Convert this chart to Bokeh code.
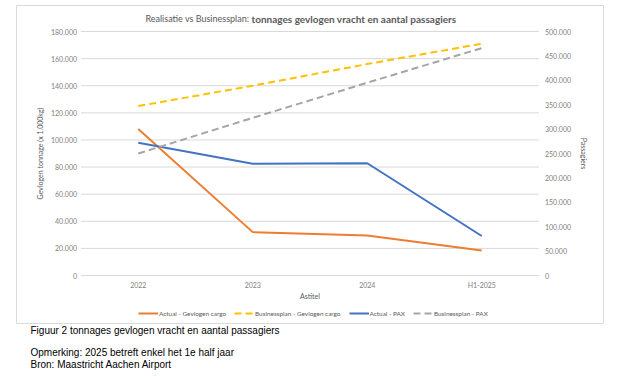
from bokeh.plotting import figure
from bokeh.layouts import column
from bokeh.models import (Range1d, LinearAxis, FactorRange, Legend, LegendItem,
                          Label, FixedTicker)
from bokeh.embed import file_html
from bokeh.resources import INLINE

categories = ["2022", "2023", "2024", "H1-2025"]
actual_cargo = [108000, 32000, 29500, 18500]
plan_cargo = [125000, 140000, 156000, 171000]
actual_pax = [272000, 229000, 230000, 81000]
plan_pax = [250000, 323000, 395000, 466000]

left_ticks = [0, 20000, 40000, 60000, 80000, 100000, 120000, 140000, 160000, 180000]
right_ticks = [0, 50000, 100000, 150000, 200000, 250000, 300000, 350000, 400000, 450000, 500000]
LEFT_MAX, RIGHT_MAX = 180000, 500000

FONT = "Lato"
TXT = "#595959"
GRID = "#d9d9d9"

# layout (pixels on the page)
W = 623
CH = 324                      # chart figure height
BOX_L, BOX_R, BOX_T, BOX_B = 16, 603, 5, 323   # chart box (frame)
PA_L, PA_R, PA_T, PA_B = 81, 539, 31, 275      # plot area inside the box

frame_w = BOX_R - BOX_L
plot_w = PA_R - PA_L
px_per_cat = plot_w / len(categories)
pad = (frame_w - plot_w) / 2 / px_per_cat

plot_h = PA_B - PA_T
lo_px, hi_px = BOX_B - PA_B, PA_T - BOX_T


def ext_range(vmax):
    per = vmax / plot_h
    return Range1d(-lo_px * per, vmax + hi_px * per)


def fmt(v):
    return f"{v:,}".replace(",", ".")


p = figure(width=W, height=CH, output_backend="svg", toolbar_location=None,
           x_range=FactorRange(*categories, range_padding=pad, range_padding_units="absolute"),
           y_range=ext_range(LEFT_MAX),
           min_border_left=BOX_L, min_border_right=W - BOX_R,
           min_border_top=BOX_T, min_border_bottom=CH - BOX_B)
p.extra_y_ranges = {"pax": ext_range(RIGHT_MAX)}
p.outline_line_color = GRID
p.outline_line_width = 1
p.background_fill_color = "white"
p.border_fill_color = "white"
p.xgrid.visible = False
p.ygrid.visible = False

n_cat = len(categories)
# horizontal gridlines limited to the plot area
p.segment(x0=[0] * len(left_ticks), x1=[n_cat] * len(left_ticks),
          y0=left_ticks, y1=left_ticks, line_color=GRID, line_width=1)

r1 = p.line(categories, actual_cargo, line_color="#ED7D31", line_width=2)
r2 = p.line(categories, plan_cargo, line_color="#FFC000", line_width=2, line_dash="7 4")
r3 = p.line(categories, actual_pax, line_color="#4472C4", line_width=2, y_range_name="pax")
r4 = p.line(categories, plan_pax, line_color="#A5A5A5", line_width=2, line_dash="7 4",
            y_range_name="pax")


def style_axis(ax):
    ax.axis_line_color = None
    ax.major_tick_line_color = None
    ax.minor_tick_line_color = None
    ax.major_tick_out = 0
    ax.major_tick_in = 0
    ax.minor_tick_out = 0
    ax.minor_tick_in = 0
    ax.major_label_text_font = FONT
    ax.major_label_text_font_size = "7px"
    ax.major_label_text_color = "#808080"
    ax.axis_label_text_font = FONT
    ax.axis_label_text_font_size = "7px"
    ax.axis_label_text_font_style = "normal"
    ax.axis_label_text_color = TXT


ly = p.yaxis[0]
style_axis(ly)
ly.fixed_location = 0
ly.bounds = (0, LEFT_MAX)
ly.ticker = FixedTicker(ticks=left_ticks)
ly.major_label_overrides = {v: fmt(v) for v in left_ticks}
ly.axis_label = "Gevlogen tonnage (x 1.000kg)"
ly.major_label_standoff = 4
ly.axis_label_standoff = 4

ry = LinearAxis(y_range_name="pax", ticker=FixedTicker(ticks=right_ticks),
                axis_label="Passagiers", fixed_location=n_cat, bounds=(0, RIGHT_MAX))
style_axis(ry)
ry.major_label_overrides = {v: fmt(v) for v in right_ticks}
ry.major_label_standoff = 6
ry.axis_label_standoff = 5
p.add_layout(ry, "right")

lx = p.xaxis[0]
style_axis(lx)
lx.fixed_location = 0
lx.axis_label = "Astitel"
lx.major_label_standoff = 5
lx.axis_label_standoff = 0

legend = Legend(items=[
    LegendItem(label="Actual - Gevlogen cargo", renderers=[r1]),
    LegendItem(label="Businessplan - Gevlogen cargo", renderers=[r2]),
    LegendItem(label="Actual - PAX", renderers=[r3]),
    LegendItem(label="Businessplan - PAX", renderers=[r4]),
], orientation="horizontal", location=(138 - BOX_L, BOX_B - 318))
legend.label_text_font = FONT
legend.label_text_font_size = "6.4px"
legend.label_text_color = TXT
legend.glyph_width = 20
legend.glyph_height = 8
legend.label_standoff = 1
legend.spacing = 8
legend.padding = 0
legend.margin = 0
legend.border_line_color = None
legend.background_fill_alpha = 0
legend.label_height = 10
p.add_layout(legend, "center")

# title (two parts: regular + bold), positions relative to the chart box
ty = BOX_B - 18
tx = 251 - BOX_L
p.add_layout(Label(x=tx, y=ty, x_units="screen", y_units="screen",
                   text="Realisatie vs Businessplan: ", text_align="right",
                   text_baseline="middle", text_font=FONT, text_font_size="9px",
                   text_color=TXT))
p.add_layout(Label(x=tx, y=ty, x_units="screen", y_units="screen",
                   text="tonnages gevlogen vracht en aantal passagiers", text_align="left",
                   text_baseline="middle", text_font=FONT, text_font_size="10px",
                   text_font_style="bold", text_color=TXT))

# caption figure below the chart
CAPH = 52
cap = figure(width=W, height=CAPH, output_backend="svg", toolbar_location=None,
             x_range=(0, 1), y_range=(0, 1), min_border=0)
cap.axis.visible = False
cap.grid.visible = False
cap.outline_line_color = None
cap.background_fill_color = "white"
cap.border_fill_color = "white"
caps = [("Figuur 2 tonnages gevlogen vracht en aantal passagiers", 330),
        ("Opmerking: 2025 betreft enkel het 1e half jaar", 352),
        ("Bron: Maastricht Aachen Airport", 364)]
for txt, yy in caps:
    cap.add_layout(Label(x=14, y=CAPH - (yy - CH), x_units="screen", y_units="screen",
                         text=txt, text_align="left", text_baseline="middle",
                         text_font="Liberation Sans", text_font_size="10px",
                         text_color="black"))

layout = column(p, cap, spacing=0)
open("out.html", "w").write(file_html(layout, INLINE))
